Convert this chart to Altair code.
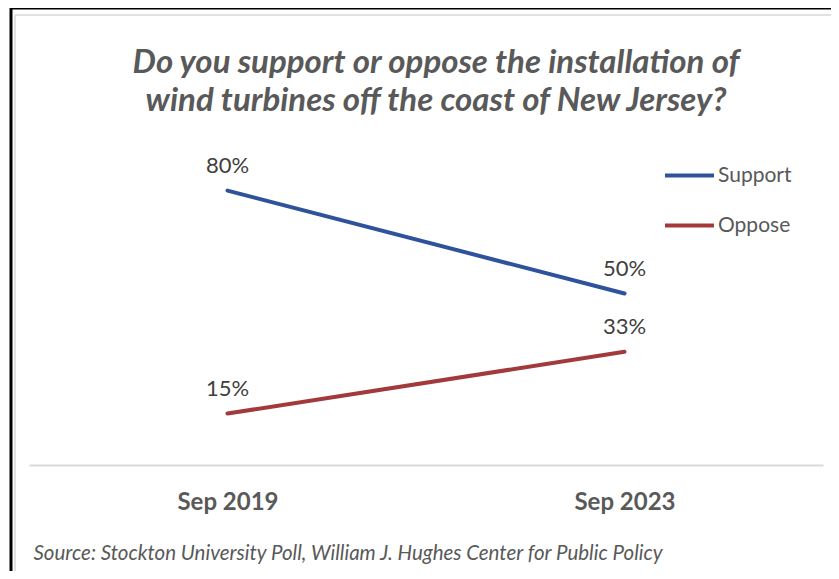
import altair as alt
import pandas as pd

dates = ["Sep 2019", "Sep 2023"]
series = ["Support", "Oppose"]
support = [80, 50]
oppose = [15, 33]
colors = ["#2F529C", "#A23A3D"]

title_lines = ["Do you support or oppose the installation of",
               "wind turbines off the coast of New Jersey?"]
source = "Source: Stockton University Poll, William J. Hughes Center for Public Policy"

rows = []
for s, vals in zip(series, [support, oppose]):
    for d, v in zip(dates, vals):
        rows.append({"date": d, "series": s, "value": v, "label": f"{v}%"})
df = pd.DataFrame(rows)

FONT = "Lato"
GRAY = "#595959"

x = alt.X(
    "date:N", sort=dates,
    scale=alt.Scale(type="point", padding=0.5),
    axis=alt.Axis(
        title=source, labelAngle=0, ticks=False, grid=False,
        domainColor="#d9d9d9", domainWidth=2,
        labelFont=FONT, labelFontSize=24, labelFontWeight="bold",
        labelColor=GRAY, labelBaseline="middle", labelPadding=37,
        titleFont=FONT, titleFontSize=20.5, titleFontStyle="italic",
        titleFontWeight="normal", titleColor=GRAY,
        titleAnchor="start", titleAlign="left", titleBaseline="middle",
        titleX=4, titleY=88,
    ),
)
y = alt.Y("value:Q", scale=alt.Scale(domain=[0, 100]), axis=None)

base = alt.Chart(df)

lines = base.mark_line(strokeWidth=4, strokeCap="round").encode(
    x=x, y=y,
    color=alt.Color(
        "series:N",
        scale=alt.Scale(domain=series, range=colors),
        legend=alt.Legend(
            title=None, orient="none", legendX=634, legendY=27,
            symbolType="stroke", symbolStrokeWidth=4, symbolSize=2400,
            labelFont=FONT, labelFontSize=21, labelColor=GRAY,
            labelOffset=2, rowPadding=13,
        ),
    ),
    detail="series:N",
)

labels = base.mark_text(dy=-25, fontSize=22, font=FONT, color="#404040").encode(
    x=x, y=y, text="label:N"
)

one = pd.DataFrame({"k": [0]})
deco = alt.Chart(one)
black_left = deco.mark_rule(color="black", strokeWidth=3).encode(
    x=alt.value(-18), y=alt.value(-114), y2=alt.value(449))
black_top = deco.mark_rule(color="black", strokeWidth=3).encode(
    x=alt.value(-19), x2=alt.value(802), y=alt.value(-114))
gray_left = deco.mark_rule(color="#d9d9d9", strokeWidth=1.5).encode(
    x=alt.value(-14), y=alt.value(-107), y2=alt.value(449))
gray_top = deco.mark_rule(color="#d9d9d9", strokeWidth=1.5).encode(
    x=alt.value(-14), x2=alt.value(802), y=alt.value(-107))

chart = alt.layer(
    black_left, black_top, gray_left, gray_top, lines, labels
).properties(
    width=794, height=343,
    autosize=alt.AutoSizeParams(type="none"),
    padding={"left": 21, "top": 114, "right": 8, "bottom": 106},
    background="white",
    title=alt.TitleParams(
        title_lines, font=FONT, fontSize=33, fontStyle="italic",
        fontWeight="bold", color=GRAY, anchor="middle", frame="group",
        offset=10, lineHeight=38, dx=10, dy=121,
    ),
).configure_view(stroke=None)

chart.save("out.html", embed_options={"renderer": "svg", "actions": False})
